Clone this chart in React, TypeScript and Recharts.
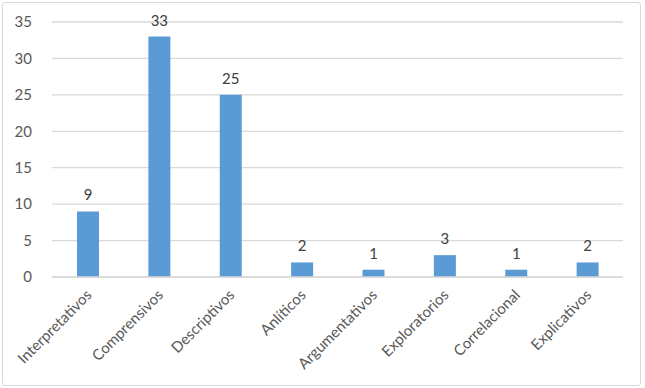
import { BarChart, Bar, XAxis, YAxis, CartesianGrid, LabelList } from "recharts";

const categorias = [
  "Interpretativos",
  "Comprensivos",
  "Descriptivos",
  "Anlíticos",
  "Argumentativos",
  "Exploratorios",
  "Correlacional",
  "Explicativos",
];
const valores = [9, 33, 25, 2, 1, 3, 1, 2];
const ticksY = [0, 5, 10, 15, 20, 25, 30, 35];

const data = categorias.map((nombre, i) => ({ nombre, valor: valores[i] }));

const FONT = "Lato, 'Open Sans', sans-serif";

function TickX({ x, y, payload }: any) {
  return (
    <g transform={`translate(${x + 5},${y + 11})`}>
      <text
        textAnchor="end"
        transform="rotate(-45)"
        fill="#595959"
        fontSize={15}
        fontFamily={FONT}
      >
        {payload.value}
      </text>
    </g>
  );
}

export default function App() {
  return (
    <div style={{ position: "absolute", left: 0, top: 0, width: 645, height: 388, background: "#fff" }}>
      <div
        style={{
          position: "absolute",
          left: 2,
          top: 2,
          width: 637,
          height: 382,
          border: "1px solid #d9d9d9",
          borderRadius: 3,
        }}
      />
      <BarChart
        width={645}
        height={388}
        data={data}
        margin={{ top: 22, right: 22, left: 0, bottom: 0 }}
        style={{ position: "absolute", left: 0, top: 0 }}
      >
        <CartesianGrid vertical={false} stroke="#d9d9d9" strokeWidth={1.3} />
        <XAxis
          dataKey="nombre"
          interval={0}
          height={111}
          tickLine={false}
          axisLine={{ stroke: "#d9d9d9", strokeWidth: 1.3 }}
          tick={<TickX />}
        />
        <YAxis
          width={52}
          domain={[0, 35]}
          ticks={ticksY}
          axisLine={false}
          tickLine={false}
          tick={{ fill: "#595959", fontSize: 15, fontFamily: FONT }}
          tickMargin={14}
        />
        <Bar dataKey="valor" fill="#5b9bd5" barSize={22} isAnimationActive={false}>
          <LabelList
            dataKey="valor"
            position="top"
            offset={11}
            fill="#404040"
            fontSize={15}
            fontFamily={FONT}
          />
        </Bar>
      </BarChart>
    </div>
  );
}
